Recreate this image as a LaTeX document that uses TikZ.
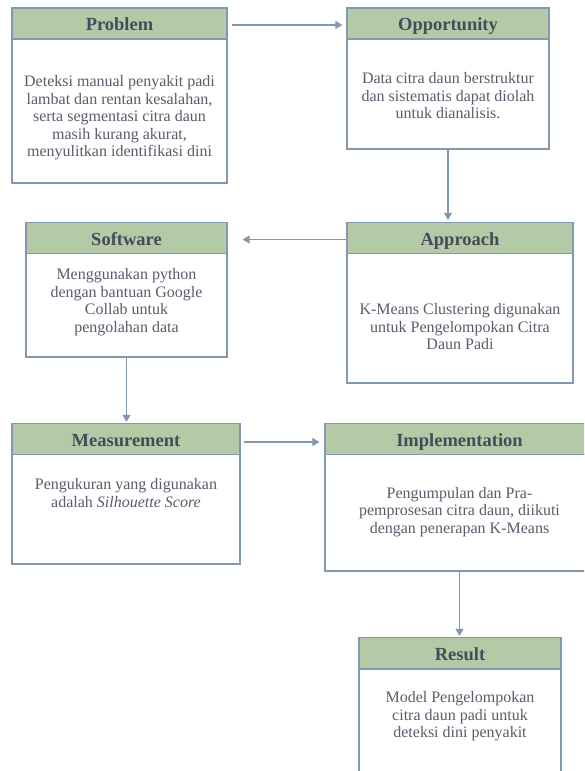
\documentclass[tikz,border=0pt]{standalone}
\usepackage{fontspec}
\setmainfont{Liberation Serif}
\usepackage{tikz}
\usetikzlibrary{calc,arrows.meta}
\definecolor{headgreen}{HTML}{B4CAA6}
\definecolor{framegray}{HTML}{8497B0}
\definecolor{inkgray}{HTML}{454B5A}

\begin{document}
\begin{tikzpicture}[x=1pt,y=1pt,
    head/.style={draw=framegray, line width=1.2pt, fill=headgreen, minimum height=31pt,
        inner sep=0pt, text height=16pt, text depth=2pt, text=inkgray,
        font=\fontsize{18.5}{20}\selectfont\bfseries},
    body/.style={draw=framegray, line width=1.2pt, fill=white, inner sep=0pt},
    txt/.style={text=inkgray!90, align=center, inner sep=0pt, font=\fontsize{16}{17.5}\selectfont},
    flow/.style={draw=framegray, line width=1.3pt, -{Triangle[length=7pt,width=8pt]}}]
            % page
            \clip (0,0) rectangle (584,-771);
            \fill[white] (0,0) rectangle (584,-771);

            % problem
            \node[body, minimum width=215pt, minimum height=144pt] (problem-body) at (119.5,-111) {};
            \node[head, minimum width=215pt] (problem) at (119.5,-23.5) {Problem};
            \node[txt] (problem-txt) at (119.5,-118) {Deteksi manual penyakit padi\\lambat dan rentan kesalahan,\\serta segmentasi citra daun\\masih kurang akurat,\\menyulitkan identifikasi dini};

            % opportunity
            \node[body, minimum width=202pt, minimum height=110pt] (opportunity-body) at (448,-94) {};
            \node[head, minimum width=202pt] (opportunity) at (448,-23.5) {Opportunity};
            \node[txt] (opportunity-txt) at (448,-96) {Data citra daun berstruktur\\dan sistematis dapat diolah\\untuk dianalisis.};

            % approach
            \node[body, minimum width=226pt, minimum height=130pt] (approach-body) at (460,-318) {};
            \node[head, minimum width=226pt] (approach) at (460,-238) {Approach};
            \node[txt] (approach-txt) at (460,-327) {K-Means Clustering digunakan\\untuk Pengelompokan Citra\\Daun Padi};

            % software
            \node[body, minimum width=201pt, minimum height=104pt] (software-body) at (126.5,-305) {};
            \node[head, minimum width=201pt] (software) at (126.5,-238) {Software};
            \node[txt] (software-txt) at (126.5,-302) {Menggunakan python\\dengan bantuan Google\\Collab untuk\\pengolahan data};

            % measurement
            \node[body, minimum width=228pt, minimum height=110pt] (measurement-body) at (126,-509) {};
            \node[head, minimum width=228pt] (measurement) at (126,-439) {Measurement};
            \node[txt] (measurement-txt) at (126,-493) {Pengukuran yang digunakan\\adalah \textit{Silhouette Score}};

            % implementation (runs past the right edge)
            \node[body, minimum width=269pt, minimum height=117pt] (implementation-body) at (459.5,-512.5) {};
            \node[head, minimum width=269pt] (implementation) at (459.5,-439) {Implementation};
            \node[txt] (implementation-txt) at (459.5,-512) {Pengumpulan dan Pra-\\pemprosesan citra daun, diikuti\\dengan penerapan K-Means};

            % result (runs past the bottom edge)
            \node[body, minimum width=202pt, minimum height=140pt] (result-body) at (460,-739) {};
            \node[head, minimum width=202pt] (result) at (460,-653) {Result};
            \node[txt] (result-txt) at (460,-716.5) {Model Pengelompokan\\citra daun padi untuk\\deteksi dini penyakit};

            % connectors
            \draw[flow, shorten <=4pt, shorten >=4pt] ($(problem.east)+(0,-1.5)$) -- ($(opportunity.west)+(0,-1.5)$);
            \draw[flow, shorten >=2pt] (opportunity-body.south) -- (opportunity-body.south |- approach.north);
            \draw[flow, shorten >=15pt] ($(approach.west)+(0,-1.5)$) -- ($(software.east)+(0,-1.5)$);
            \draw[flow, shorten >=1pt] (software-body.south) -- (software-body.south |- measurement.north);
            \draw[flow, shorten <=3pt, shorten >=5pt] ($(measurement.east)+(0,-3)$) -- ($(implementation.west)+(0,-3)$);
            \draw[flow, shorten >=1pt] (implementation-body.south) -- (implementation-body.south |- result.north);

        \end{tikzpicture}
\end{document}
